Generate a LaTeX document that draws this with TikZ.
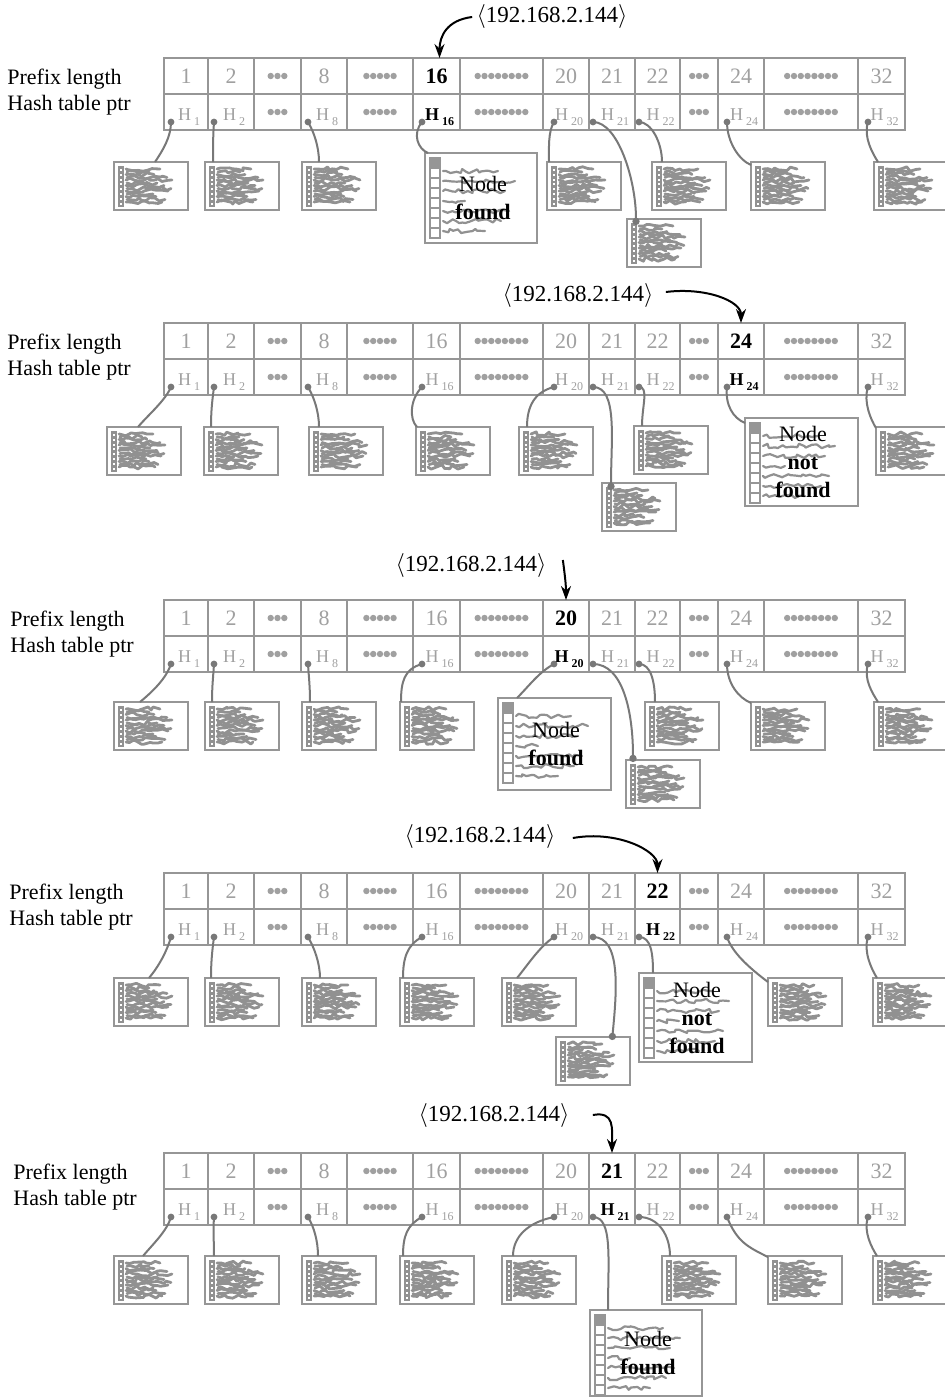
\documentclass[tikz,border=0pt]{standalone}
\usepackage{fontspec}
\setmainfont{Liberation Serif}
\usepackage{tikz}
\usetikzlibrary{arrows.meta,calc,decorations.pathmorphing}
\definecolor{tabgray}{RGB}{150,150,150}
\definecolor{tabtext}{RGB}{160,160,160}
\definecolor{linkgray}{RGB}{120,120,120}
\definecolor{scribgray}{RGB}{145,145,145}
\newcommand{\numfont}{\fontsize{11}{13}\selectfont}
\newcommand{\hlabfont}{\fontsize{9}{10}\selectfont}
\newcommand{\hsubfont}{\fontsize{6}{7}\selectfont}

% small hash table: name, x, y of the top left corner
\newcommand{\hashbox}[3]{%
  \node[hbox, anchor=north west] (#1) at (#2,#3) {};
  \fill[scribgray] (#2+4,#3+4) rectangle (#2+10,#3+45);
  \foreach \k in {0,...,7}
    \fill[white] (#2+6,#3+7+4.8*\k) rectangle ++(2,2);
  \foreach \lenA [count=\j from 0] in {34,28,46,38,42,30,36}
    \draw[scrib] (#2+12,#3+7+5.5*\j) -- ++(\lenA,0);
  \foreach \lenA [count=\j from 0] in {22,40,30,44,26,38}
    \draw[scrib] (#2+13,#3+10+5.5*\j) -- ++(\lenA,0);
}

% hash table holding the looked-up node: name, x, y, width, height, text
\newcommand{\nodebox}[6]{%
  \node[hbox, anchor=north west, minimum width=#4*0.5pt, minimum height=#5*0.5pt] (#1) at (#2,#3) {};
  \foreach \k in {0,...,7}
    \draw[tabgray, line width=0.8pt] (#2+5,#3+5+10*\k) rectangle ++(10,10);
  \fill[tabgray] (#2+5.5,#3+5.5) rectangle ++(9,9);
  \foreach \lenA [count=\j from 0] in {55,72,62,22,66,58,42}
    \draw[scribthin] (#2+18,#3+18+10*\j) -- ++(\lenA,0);
  \node[boxtext] (#1t) at (#2+58,#3+#5/2) {#6};
}

% prefix length table: panel, top y, label x, probed length
\newcommand{\prefixtable}[4]{%
  \node[rowlabel, anchor=base west] (#1pl) at (#3,#2+26) {Prefix length};
  \node[rowlabel, anchor=base west] (#1hp) at (#3,#2+52) {Hash table ptr};
  \foreach \xa/\xb/\plen/\opt in {164/208/1/7, 208/254/2/6, 254/301/0/3, 301/347/8/7,
      347/413/0/5, 413/460/16/9, 460/543/0/8, 543/589/20/11, 589/635/21/4,
      635/680/22/4, 680/718/0/3, 718/764/24/9, 764/858/0/8, 858/905/32/10} {
    \pgfmathsetmacro\cw{(\xb-\xa)/2}
    \pgfmathsetmacro\cx{(\xa+\xb)/2}
    \node[cell, minimum width=\cw pt] (#1b\xa) at (\cx,#2+54) {};
    \ifnum\plen=0
      \node[cell, minimum width=\cw pt] (#1s\xa) at (\cx,#2+18) {};
      \foreach \k in {1,...,\opt}
        \fill[tabtext] (\cx+6.8*\k-3.4*\opt-3.4,#2+18) circle (1.6pt)
                       (\cx+6.8*\k-3.4*\opt-3.4,#2+54) circle (1.6pt);
    \else
      \ifnum\plen=#4
        \node[hotcell, minimum width=\cw pt] (#1l\plen) at (\cx,#2+18) {\plen};
        \node[hothlab] (#1h\plen) at (\cx+3,#2+62) {H\,\raisebox{-2.5pt}{\hsubfont\plen}};
      \else
        \node[cell, minimum width=\cw pt] (#1l\plen) at (\cx,#2+18) {\plen};
        \node[hlab] (#1h\plen) at (\cx+3,#2+62) {H\,\raisebox{-2.5pt}{\hsubfont\plen}};
      \fi
      \coordinate (#1d\plen) at (\xa+\opt,#2+64);
      \fill[linkgray] (#1d\plen) circle (1.7pt);
    \fi
  }
}

\begin{document}
\begin{tikzpicture}[
    x=0.5pt, y=-0.5pt,
    cell/.style={rectangle, draw=tabgray, line width=1pt, minimum height=18pt, inner sep=0pt, outer sep=0pt, font=\numfont, text=tabtext},
    hotcell/.style={cell, text=black, font=\numfont\bfseries},
    hlab/.style={anchor=base, inner sep=0pt, font=\hlabfont, text=tabtext},
    hothlab/.style={hlab, text=black, font=\hlabfont\bfseries},
    hbox/.style={rectangle, draw=tabgray, line width=1pt, fill=white, inner sep=0pt, outer sep=0pt, minimum width=37pt, minimum height=24pt},
    scrib/.style={draw=scribgray, line width=1.4pt, line cap=round, line join=round, decorate, decoration={random steps, segment length=2pt, amplitude=1.1pt}},
    scribthin/.style={scrib, line width=1.1pt},
    boxtext/.style={align=center, inner sep=0pt, font=\fontsize{11}{14}\selectfont},
    rowlabel/.style={inner sep=0pt, font=\fontsize{11}{13}\selectfont},
    ipaddr/.style={inner sep=2pt, font=\fontsize{11.5}{13}\selectfont},
    link/.style={draw=linkgray, line width=1pt},
    linkdot/.style={link, -{Circle[length=3.6pt]}},
    probe/.style={draw=black, line width=1pt, -{Stealth[length=7pt,width=5pt]}}
]
    \path[fill=white, use as bounding box] (0,0) rectangle (945,1397);

    %% probe of length 16
    \prefixtable{p1}{58}{7}{16}
    \hashbox{p1x1}{114}{162}
    \hashbox{p1x2}{205}{162}
    \hashbox{p1x8}{302}{162}
    \nodebox{p1x16}{425}{153}{112}{90}{Node\\\textbf{found}}
    \hashbox{p1x20}{547}{162}
    \hashbox{p1x21}{627}{219}
    \hashbox{p1x22}{652}{162}
    \hashbox{p1x24}{751}{162}
    \hashbox{p1x32}{874}{162}
    \draw[link] (p1d1) .. controls +(0,15) and +(8,-12) .. ($(p1x1.north west)+(41,0)$);
    \draw[link] (p1d2) .. controls +(-1,15) and +(0,-15) .. ($(p1x2.north west)+(8,0)$);
    \draw[link] (p1d8) .. controls +(6,10) and +(0,-15) .. ($(p1x8.north west)+(17,0)$);
    \draw[link] (p1d16) .. controls +(-10,12) and +(-10,-4) .. ($(p1x16.north west)+(3,0)$);
    \draw[link] (p1d20) .. controls +(-6,10) and +(0,-15) .. ($(p1x20.north west)+(2,0)$);
    \draw[linkdot] (p1d21) .. controls +(25,0) and +(0,-45) .. ($(p1x21.north west)+(9,6)$);
    \draw[link] (p1d22) .. controls +(12,0) and +(0,-20) .. ($(p1x22.north west)+(10,0)$);
    \draw[link] (p1d24) .. controls +(0,20) and +(-12,-5) .. ($(p1x24.north west)+(0,3)$);
    \draw[link] (p1d32) .. controls +(-5,15) and +(-5,-8) .. ($(p1x32.north west)+(4,0)$);
    \node[ipaddr] (p1ip) at (552,17) {$\langle$192.168.2.144$\rangle$};
    \draw[probe] (p1ip.west) .. controls +(-25,3) and +(0,-22) .. ($(p1l16.north)+(3,0)$);

    %% probe of length 24
    \prefixtable{p2}{323}{7}{24}
    \hashbox{p2x1}{107}{427}
    \hashbox{p2x2}{204}{427}
    \hashbox{p2x8}{309}{427}
    \hashbox{p2x16}{416}{427}
    \hashbox{p2x20}{519}{427}
    \hashbox{p2x21}{602}{483}
    \hashbox{p2x22}{634}{426}
    \nodebox{p2x24}{745}{418}{113}{88}{Node\\\textbf{not}\\\textbf{found}}
    \hashbox{p2x32}{876}{427}
    \draw[link] (p2d1) .. controls +(-6,14) and +(10,-12) .. ($(p2x1.north west)+(31,0)$);
    \draw[link] (p2d2) .. controls +(-2,15) and +(0,-15) .. ($(p2x2.north west)+(7,0)$);
    \draw[link] (p2d8) .. controls +(6,10) and +(0,-15) .. ($(p2x8.north west)+(10,0)$);
    \draw[link] (p2d16) .. controls +(-12,12) and +(-8,-8) .. ($(p2x16.north west)+(1,0)$);
    \draw[link] (p2d20) .. controls +(-20,5) and +(0,-20) .. ($(p2x20.north west)+(8,0)$);
    \draw[linkdot] (p2d21) .. controls +(25,0) and +(0,-50) .. ($(p2x21.north west)+(9,7)$);
    \draw[link] (p2d22) .. controls +(10,0) and +(0,-20) .. ($(p2x22.north west)+(8,0)$);
    \draw[link] (p2d24) .. controls +(-2,18) and +(-12,-5) .. ($(p2x24.north west)+(0,5)$);
    \draw[link] (p2d32) .. controls +(-5,15) and +(-5,-8) .. ($(p2x32.north west)+(0,1)$);
    \node[ipaddr] (p2ip) at (578,295) {$\langle$192.168.2.144$\rangle$};
    \draw[probe] ($(p2ip.east)+(8,-3)$) .. controls +(40,-5) and +(0,-22) .. (p2l24.north);

    %% probe of length 20
    \prefixtable{p3}{600}{10}{20}
    \hashbox{p3x1}{114}{702}
    \hashbox{p3x2}{205}{702}
    \hashbox{p3x8}{302}{702}
    \hashbox{p3x16}{400}{702}
    \nodebox{p3x20}{498}{698}{113}{92}{Node\\\textbf{found}}
    \hashbox{p3x21}{626}{760}
    \hashbox{p3x22}{645}{702}
    \hashbox{p3x24}{751}{702}
    \hashbox{p3x32}{874}{702}
    \draw[link] (p3d1) .. controls +(-5,15) and +(12,-10) .. ($(p3x1.north west)+(26,0)$);
    \draw[link] (p3d2) .. controls +(-1,15) and +(0,-15) .. ($(p3x2.north west)+(7,0)$);
    \draw[link] (p3d8) .. controls +(1,15) and +(0,-15) .. ($(p3x8.north west)+(8,0)$);
    \draw[link] (p3d16) .. controls +(-18,5) and +(0,-20) .. ($(p3x16.north west)+(1,0)$);
    \draw[link] (p3d20) .. controls +(-15,8) and +(12,-12) .. ($(p3x20.north west)+(19,0)$);
    \draw[linkdot] (p3d21) .. controls +(30,0) and +(0,-50) .. ($(p3x21.north west)+(7,2)$);
    \draw[link] (p3d22) .. controls +(12,0) and +(0,-20) .. ($(p3x22.north west)+(10,0)$);
    \draw[link] (p3d24) .. controls +(0,20) and +(-12,-5) .. ($(p3x24.north west)+(0,1)$);
    \draw[link] (p3d32) .. controls +(-5,15) and +(-5,-8) .. ($(p3x32.north west)+(4,0)$);
    \node[ipaddr] (p3ip) at (471,565) {$\langle$192.168.2.144$\rangle$};
    \draw[probe] ($(p3ip.east)+(12,-5)$) .. controls +(2,15) and +(0,-15) .. (p3l20.north);

    %% probe of length 22
    \prefixtable{p4}{873}{9}{22}
    \hashbox{p4x1}{114}{978}
    \hashbox{p4x2}{205}{978}
    \hashbox{p4x8}{302}{978}
    \hashbox{p4x16}{400}{978}
    \hashbox{p4x20}{502}{978}
    \hashbox{p4x21}{556}{1037}
    \nodebox{p4x22}{639}{973}{113}{89}{Node\\\textbf{not}\\\textbf{found}}
    \hashbox{p4x24}{768}{978}
    \hashbox{p4x32}{873}{978}
    \draw[link] (p4d1) .. controls +(-4,14) and +(10,-12) .. ($(p4x1.north west)+(35,0)$);
    \draw[link] (p4d2) .. controls +(-2,15) and +(0,-15) .. ($(p4x2.north west)+(6,0)$);
    \draw[link] (p4d8) .. controls +(6,10) and +(0,-15) .. ($(p4x8.north west)+(18,0)$);
    \draw[link] (p4d16) .. controls +(-15,8) and +(0,-20) .. ($(p4x16.north west)+(3,0)$);
    \draw[link] (p4d20) .. controls +(-15,10) and +(10,-12) .. ($(p4x20.north west)+(15,0)$);
    \draw[linkdot] (p4d21) .. controls +(28,0) and +(5,-50) .. ($(p4x21.north west)+(56,3)$);
    \draw[link] (p4d22) .. controls +(12,0) and +(0,-20) .. ($(p4x22.north west)+(14,0)$);
    \draw[link] (p4d24) .. controls +(5,15) and +(-20,-15) .. ($(p4x24.north west)+(0,4)$);
    \draw[link] (p4d32) .. controls +(-5,15) and +(-5,-8) .. ($(p4x32.north west)+(4,0)$);
    \node[ipaddr] (p4ip) at (480,836) {$\langle$192.168.2.144$\rangle$};
    \draw[probe] ($(p4ip.east)+(13,2)$) .. controls +(45,-8) and +(0,-22) .. (p4l22.north);

    %% probe of length 21
    \prefixtable{p5}{1153}{13}{21}
    \hashbox{p5x1}{114}{1256}
    \hashbox{p5x2}{205}{1256}
    \hashbox{p5x8}{302}{1256}
    \hashbox{p5x16}{400}{1256}
    \hashbox{p5x20}{502}{1256}
    \nodebox{p5x21}{590}{1310}{112}{86}{Node\\\textbf{found}}
    \hashbox{p5x22}{662}{1256}
    \hashbox{p5x24}{768}{1256}
    \hashbox{p5x32}{873}{1256}
    \draw[link] (p5d1) .. controls +(-4,14) and +(10,-12) .. ($(p5x1.north west)+(29,0)$);
    \draw[link] (p5d2) .. controls +(-1,15) and +(0,-15) .. ($(p5x2.north west)+(9,0)$);
    \draw[link] (p5d8) .. controls +(6,10) and +(0,-15) .. ($(p5x8.north west)+(16,0)$);
    \draw[link] (p5d16) .. controls +(-15,8) and +(0,-20) .. ($(p5x16.north west)+(3,0)$);
    \draw[link] (p5d20) .. controls +(-25,5) and +(0,-20) .. ($(p5x20.north west)+(11,0)$);
    \draw[link] (p5d21) .. controls +(20,0) and +(0,-50) .. ($(p5x21.north west)+(18,0)$);
    \draw[link] (p5d22) .. controls +(20,0) and +(0,-20) .. ($(p5x22.north west)+(8,0)$);
    \draw[link] (p5d24) .. controls +(10,25) and +(-20,-10) .. ($(p5x24.north west)+(0,1)$);
    \draw[link] (p5d32) .. controls +(-5,15) and +(-5,-8) .. ($(p5x32.north west)+(4,0)$);
    \node[ipaddr] (p5ip) at (494,1115) {$\langle$192.168.2.144$\rangle$};
    \draw[probe] ($(p5ip.east)+(19,0)$) .. controls +(22,-4) and +(0,-25) .. (p5l21.north);
\end{tikzpicture}
\end{document}
